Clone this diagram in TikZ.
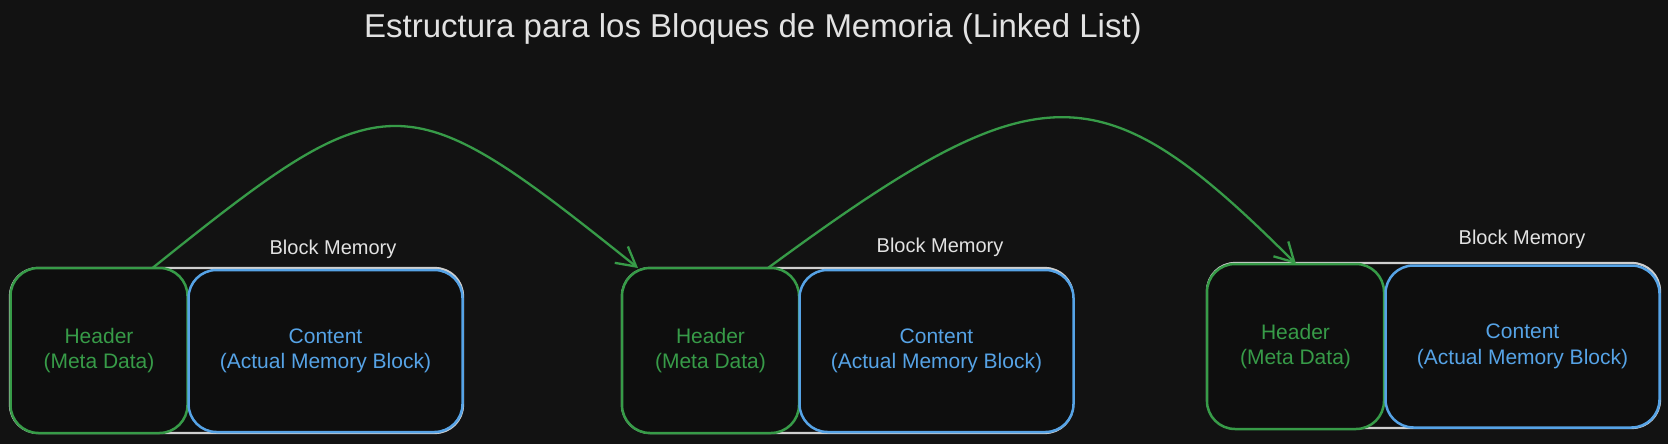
\documentclass[tikz,border=0pt]{standalone}
\usepackage{fontspec}
\setmainfont{Liberation Sans}
\usetikzlibrary{arrows.meta}
\definecolor{bg}{HTML}{121212}
\definecolor{boxfill}{HTML}{0E0E0E}
\definecolor{grn}{HTML}{379B48}
\definecolor{blu}{HTML}{56A3E6}
\definecolor{wht}{HTML}{E2E2E2}
\definecolor{edgecol}{HTML}{CFCFCF}
\begin{document}
\begin{tikzpicture}[x=1pt,y=-1pt,
  every node/.style={inner sep=0pt, outer sep=0pt},
  outerbox/.style={draw=edgecol, line width=2.2pt, fill=boxfill, rounded corners=28pt, minimum width=#1, minimum height=165pt},
  hdrbox/.style={draw=grn, line width=2.5pt, fill=boxfill, rounded corners=28pt, text=grn, align=center,
     font=\fontsize{21}{25.5}\selectfont, minimum width=177pt, minimum height=165pt},
  cntbox/.style={draw=blu, line width=2.5pt, fill=boxfill, rounded corners=28pt, text=blu, align=center,
     font=\fontsize{21}{25.5}\selectfont, minimum width=274pt, minimum height=162pt},
  blklabel/.style={text=wht, font=\fontsize{20}{24}\selectfont},
  conn/.style={draw=grn, line width=2.3pt, -{Straight Barb[length=19pt,width=21pt,line width=2.3pt]}}
]
\fill[bg] (0,0) rectangle (1668,444);
\useasboundingbox (0,0) rectangle (1668,444);

\node[text=wht, font=\fontsize{33}{40}\selectfont] (title) at (753,29) {Estructura para los Bloques de Memoria (Linked List)};

% group 1
\node[outerbox=453pt] (o1) at (236.5,350.5) {};
\node[hdrbox] (h1) at (99,350.5) {Header\\(Meta Data)};
\node[cntbox] (c1) at (325.5,351) {Content\\(Actual Memory Block)};
\node[blklabel] (b1) at (333,249) {Block Memory};

% group 2
\node[outerbox=451pt] (o2) at (847.5,350.5) {};
\node[hdrbox] (h2) at (710.5,350.5) {Header\\(Meta Data)};
\node[cntbox] (c2) at (936.5,351) {Content\\(Actual Memory Block)};
\node[blklabel] (b2) at (940,247) {Block Memory};

% group 3
\node[outerbox=453pt] (o3) at (1433.5,345.5) {};
\node[hdrbox] (h3) at (1295.5,346.5) {Header\\(Meta Data)};
\node[cntbox] (c3) at (1522.5,346.5) {Content\\(Actual Memory Block)};
\node[blklabel] (b3) at (1522,239) {Block Memory};

% connectors
\coordinate (s1) at ([xshift=-35pt]h1.north east);
\coordinate (e1) at ([xshift=16pt]h2.north west);
\coordinate (s2) at ([xshift=-31pt]h2.north east);
\coordinate (e2) at ([xshift=89pt]h3.north west);
\draw[conn] (s1) .. controls (388,79) and (402,79) .. (e1);
\draw[conn] (s2) .. controls (1040,68) and (1100,68) .. (e2);
\end{tikzpicture}
\end{document}
